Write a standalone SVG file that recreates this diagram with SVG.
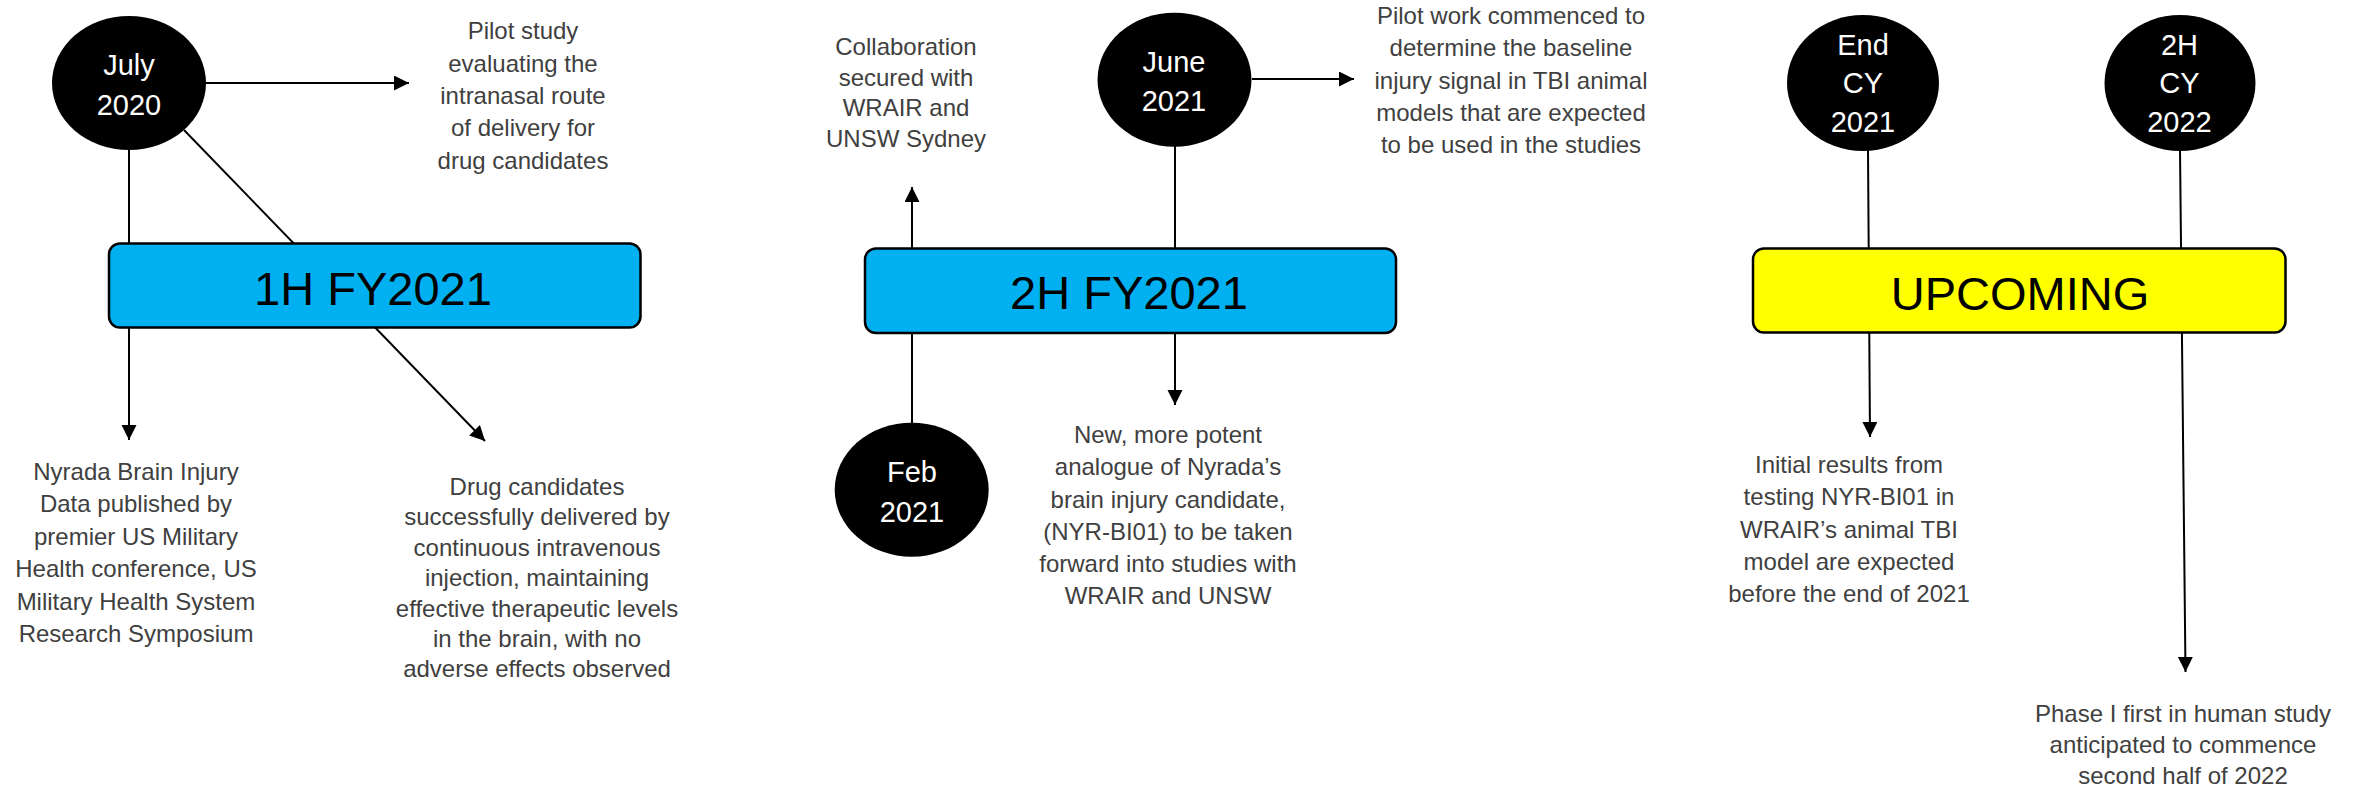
<svg xmlns="http://www.w3.org/2000/svg" width="2354" height="789" viewBox="0 0 2354 789">
<defs>
<marker id="ah" markerUnits="userSpaceOnUse" markerWidth="16" markerHeight="16" refX="15" refY="7.5" orient="auto"><path d="M0,0 L15,7.5 L0,15 z" fill="#000"/></marker>
<style>
.lbl{font-family:"Liberation Sans",Arial,sans-serif;font-size:24px;fill:#404040;text-anchor:middle}
.dt{font-family:"Liberation Sans",Arial,sans-serif;font-size:29px;fill:#fff;text-anchor:middle}
.bt{font-family:"Liberation Sans",Arial,sans-serif;font-size:47px;fill:#000;text-anchor:middle}
.conn{stroke:#000;stroke-width:2;fill:none}
.circ{fill:#000}
.box{stroke:#000;stroke-width:2.5}
</style>
</defs>
<rect width="2354" height="789" fill="#fff"/>
<g id="connectors">
<path class="conn" d="M129,150 L129,440" marker-end="url(#ah)"/>
<path class="conn" d="M184,130 L485,441" marker-end="url(#ah)"/>
<path class="conn" d="M206,83 L409,83" marker-end="url(#ah)"/>
<path class="conn" d="M1175,146 L1175,405" marker-end="url(#ah)"/>
<path class="conn" d="M1252,79 L1354,79" marker-end="url(#ah)"/>
<path class="conn" d="M912,423 L912,187" marker-end="url(#ah)"/>
<path class="conn" d="M1868,150 L1870,437" marker-end="url(#ah)"/>
<path class="conn" d="M2180,150 L2185.5,672" marker-end="url(#ah)"/>
</g>
<g id="box-1h">
<rect class="box" x="109" y="243.5" width="531.5" height="84" rx="11" fill="#00B0F0"/>
<text class="bt" x="373" y="305">1H FY2021</text>
</g>
<g id="box-2h">
<rect class="box" x="865" y="248.5" width="531" height="84.5" rx="11" fill="#00B0F0"/>
<text class="bt" x="1129" y="309">2H FY2021</text>
</g>
<g id="box-upcoming">
<rect class="box" x="1753" y="248.5" width="532.5" height="84" rx="11" fill="#FFFF00"/>
<text class="bt" x="2020" y="310">UPCOMING</text>
</g>
<g id="node-july2020">
<ellipse class="circ" cx="129" cy="83" rx="77" ry="67"/>
<text class="dt"><tspan x="129" y="75">July</tspan><tspan x="129" y="115">2020</tspan></text>
</g>
<g id="node-june2021">
<ellipse class="circ" cx="1174.5" cy="79.7" rx="77" ry="67"/>
<text class="dt"><tspan x="1174" y="71.7">June</tspan><tspan x="1174" y="110.7">2021</tspan></text>
</g>
<g id="node-feb2021">
<ellipse class="circ" cx="911.7" cy="489.7" rx="77" ry="67"/>
<text class="dt"><tspan x="912" y="481.7">Feb</tspan><tspan x="912" y="521.7">2021</tspan></text>
</g>
<g id="node-endcy2021">
<ellipse class="circ" cx="1863" cy="83" rx="76" ry="68"/>
<text class="dt"><tspan x="1863" y="55">End</tspan><tspan x="1863" y="93.3">CY</tspan><tspan x="1863" y="131.7">2021</tspan></text>
</g>
<g id="node-2hcy2022">
<ellipse class="circ" cx="2180" cy="83" rx="75.5" ry="68"/>
<text class="dt"><tspan x="2179.5" y="55">2H</tspan><tspan x="2179.5" y="93.3">CY</tspan><tspan x="2179.5" y="131.7">2022</tspan></text>
</g>
<g id="label-pilot-study">
<text class="lbl"><tspan x="523" y="39.3">Pilot study</tspan><tspan x="523" y="71.6">evaluating the</tspan><tspan x="523" y="103.9">intranasal route</tspan><tspan x="523" y="136.2">of delivery for</tspan><tspan x="523" y="168.5">drug candidates</tspan></text>
</g>
<g id="label-nyrada-data">
<text class="lbl"><tspan x="136" y="480">Nyrada Brain Injury</tspan><tspan x="136" y="512.4">Data published by</tspan><tspan x="136" y="544.8">premier US Military</tspan><tspan x="136" y="577.2">Health conference, US</tspan><tspan x="136" y="609.6">Military Health System</tspan><tspan x="136" y="642">Research Symposium</tspan></text>
</g>
<g id="label-drug-candidates">
<text class="lbl"><tspan x="537" y="495">Drug candidates</tspan><tspan x="537" y="525.4">successfully delivered by</tspan><tspan x="537" y="555.8">continuous intravenous</tspan><tspan x="537" y="586.2">injection, maintaining</tspan><tspan x="537" y="616.6">effective therapeutic levels</tspan><tspan x="537" y="647">in the brain, with no</tspan><tspan x="537" y="677.4">adverse effects observed</tspan></text>
</g>
<g id="label-collaboration">
<text class="lbl"><tspan x="906" y="55">Collaboration</tspan><tspan x="906" y="85.5">secured with</tspan><tspan x="906" y="116">WRAIR and</tspan><tspan x="906" y="146.5">UNSW Sydney</tspan></text>
</g>
<g id="label-pilot-work">
<text class="lbl"><tspan x="1511" y="24">Pilot work commenced to</tspan><tspan x="1511" y="56.3">determine the baseline</tspan><tspan x="1511" y="88.6">injury signal in TBI animal</tspan><tspan x="1511" y="120.9">models that are expected</tspan><tspan x="1511" y="153.2">to be used in the studies</tspan></text>
</g>
<g id="label-new-analogue">
<text class="lbl"><tspan x="1168" y="443.3">New, more potent</tspan><tspan x="1168" y="475.4">analogue of Nyrada’s</tspan><tspan x="1168" y="507.5">brain injury candidate,</tspan><tspan x="1168" y="539.6">(NYR-BI01) to be taken</tspan><tspan x="1168" y="571.7">forward into studies with</tspan><tspan x="1168" y="603.8">WRAIR and UNSW</tspan></text>
</g>
<g id="label-initial-results">
<text class="lbl"><tspan x="1849" y="473.3">Initial results from</tspan><tspan x="1849" y="505.4">testing NYR-BI01 in</tspan><tspan x="1849" y="537.5">WRAIR’s animal TBI</tspan><tspan x="1849" y="569.6">model are expected</tspan><tspan x="1849" y="601.7">before the end of 2021</tspan></text>
</g>
<g id="label-phase1">
<text class="lbl"><tspan x="2183" y="721.7">Phase I first in human study</tspan><tspan x="2183" y="752.8">anticipated to commence</tspan><tspan x="2183" y="783.9">second half of 2022</tspan></text>
</g>
</svg>
